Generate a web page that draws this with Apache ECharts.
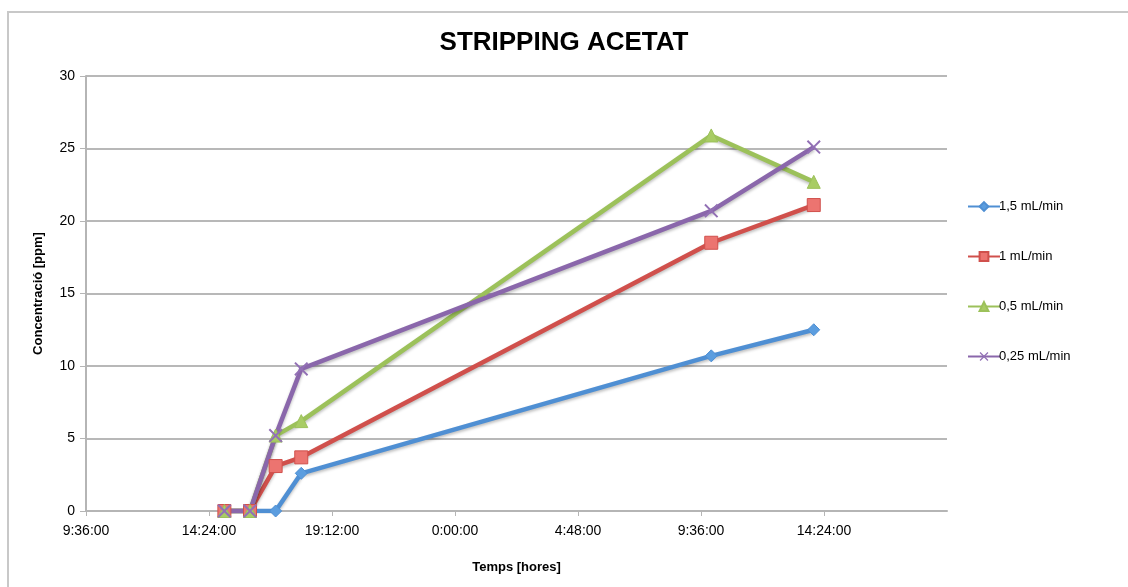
<!doctype html>
<html>
    <head>
        <meta charset="utf-8">
        <title>Stripping acetat</title>
        <style>
            html, body { margin: 0; padding: 0; background: #fff; }
            #main { width: 1128px; height: 587px; }
        </style>
    </head>
    <body>
        <div id="main"></div>
        <script src="https://cdn.jsdelivr.net/npm/echarts@6/dist/echarts.min.js"></script>
        <script>
            // sample times, hours counted from 0:00 of the first day
            var sampleHours = [15, 16, 17, 18, 34, 38];
            var seriesNames = ['1,5 mL/min', '1 mL/min', '0,5 mL/min', '0,25 mL/min'];
            var flow15 = [0, 0, 0, 2.6, 10.7, 12.5];
            var flow1 = [0, 0, 3.1, 3.7, 18.5, 21.1];
            var flow05 = [0, 0, 5.2, 6.2, 25.9, 22.7];
            var flow025 = [0, 0, 5.2, 9.8, 20.7, 25.1];

            var lineColors = ['#4f8fd3', '#d0504c', '#9cc15a', '#8a67ab'];
            var markColors = ['#5b9ddf', '#ec7470', '#a8cc64', '#9270b5'];
            var symbols = ['diamond', 'rect', 'triangle',
                'path://M0,1 L1,0 L5,4 L9,0 L10,1 L6,5 L10,9 L9,10 L5,6 L1,10 L0,9 L4,5 Z'];
            var symbolSizes = [12, 13, 13, 14];
            var allValues = [flow15, flow1, flow05, flow025];

            var font = 'Liberation Sans, Arial, sans-serif';

            function timeLabel(v) {
                var m = Math.round(v * 60) % 1440;
                var h = Math.floor(m / 60), mm = m % 60;
                return h + ':' + (mm < 10 ? '0' : '') + mm + ':00';
            }

            var chart = echarts.init(document.getElementById('main'));

            var series = seriesNames.map(function (name, i) {
                return {
                    name: name,
                    type: 'line',
                    data: sampleHours.map(function (h, j) { return [h, allValues[i][j]]; }),
                    symbol: symbols[i],
                    symbolSize: symbolSizes[i],
                    lineStyle: {
                        color: lineColors[i], width: 4.5,
                        shadowColor: 'rgba(0,0,0,0.25)', shadowBlur: 3, shadowOffsetY: 2
                    },
                    itemStyle: { color: markColors[i], borderColor: lineColors[i], borderWidth: i == 3 ? 0 : 1 },
                    emphasis: { disabled: true },
                    animation: false
                };
            });

            chart.setOption({
                backgroundColor: '#fff',
                textStyle: { fontFamily: font },
                title: {
                    text: 'STRIPPING ACETAT',
                    left: 'center',
                    top: 25,
                    textStyle: { fontSize: 26, fontWeight: 'bold', color: '#000', fontFamily: font }
                },
                graphic: [{
                    type: 'polyline',
                    shape: { points: [[8, 587], [8, 12], [1128, 12]] },
                    style: { stroke: '#c8c8c8', lineWidth: 2, fill: null },
                    silent: true
                }],
                legend: {
                    orient: 'vertical',
                    left: 962,
                    top: 195,
                    itemGap: 37,
                    itemWidth: 32,
                    itemHeight: 11,
                    textStyle: { fontSize: 13, color: '#000', fontFamily: font, padding: [0, 0, 0, -6] },
                    data: seriesNames
                },
                grid: { left: 86, right: 181, top: 76, bottom: 76 },
                xAxis: {
                    type: 'value',
                    min: 9.6,
                    max: 43.2,
                    interval: 4.8,
                    name: 'Temps [hores]',
                    nameLocation: 'middle',
                    nameGap: 50,
                    nameTextStyle: { fontSize: 13, fontWeight: 'bold', color: '#000' },
                    axisLine: { lineStyle: { color: '#b5b5b5', width: 2 } },
                    axisTick: { show: true, length: 5, lineStyle: { color: '#b5b5b5', width: 1 } },
                    splitLine: { show: false },
                    axisLabel: {
                        fontSize: 14, color: '#000', margin: 13,
                        showMaxLabel: false,
                        formatter: timeLabel
                    }
                },
                yAxis: {
                    type: 'value',
                    min: 0,
                    max: 30,
                    interval: 5,
                    name: 'Concentració [ppm]',
                    nameLocation: 'middle',
                    nameGap: 41,
                    nameTextStyle: { fontSize: 13, fontWeight: 'bold', color: '#000' },
                    axisLine: { show: true, lineStyle: { color: '#b5b5b5', width: 2 } },
                    axisTick: { show: true, length: 6, lineStyle: { color: '#b5b5b5', width: 1 } },
                    splitLine: { lineStyle: { color: '#b8b8b8', width: 2 } },
                    axisLabel: { fontSize: 14, color: '#000', margin: 11 }
                },
                series: series
            });

            window.addEventListener('resize', function () {
                chart.resize();
            });
        </script>
    </body>
</html>
